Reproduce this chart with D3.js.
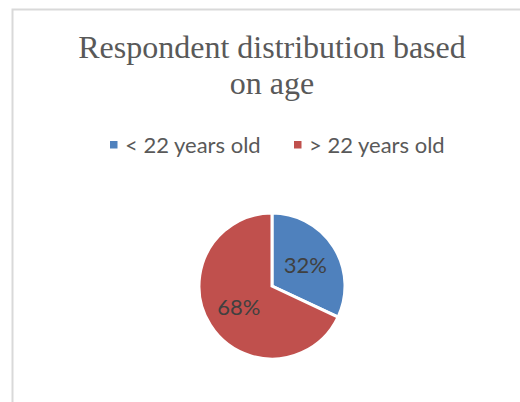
<!DOCTYPE html>
<html>
<head>
<meta charset="utf-8">
<script src="https://cdn.jsdelivr.net/npm/d3@7"></script>
<style>
    html, body { margin: 0; padding: 0; background: #fff; }
    svg { display: block; }
</style>
</head>
<body>
<div id="chart"></div>
<script>
// data
const categories = ["< 22 years old", "> 22 years old"];
const shares = [32, 68];
const sliceColors = ["#4f81bd", "#c0504d"];
const titleLines = ["Respondent distribution based", "on age"];

const WIDTH = 520;
const HEIGHT = 402;
const CENTER_X = 272;

const svg = d3.select("#chart")
    .append("svg")
    .attr("width", WIDTH)
    .attr("height", HEIGHT);

// chart area frame (runs off the right and bottom edges)
svg.append("rect")
    .attr("x", 12.5)
    .attr("y", 9.5)
    .attr("width", 540)
    .attr("height", 420)
    .attr("fill", "#fff")
    .attr("stroke", "#d9d9d9")
    .attr("stroke-width", 2);

// title
svg.append("text")
    .attr("text-anchor", "middle")
    .attr("font-family", "'Liberation Serif', 'Times New Roman', serif")
    .attr("font-size", 32)
    .attr("fill", "#595959")
    .selectAll("tspan")
    .data(titleLines)
    .join("tspan")
    .attr("x", CENTER_X)
    .attr("y", (d, i) => 58 + i * 35.5)
    .text(d => d);

// legend
const legendX = d3.scalePoint()
    .domain(categories)
    .range([110, 294]);

const legend = svg.append("g")
    .selectAll("g")
    .data(categories)
    .join("g")
    .attr("transform", d => `translate(${legendX(d)}, 0)`);

legend.append("rect")
    .attr("x", 0)
    .attr("y", 141)
    .attr("width", 7.5)
    .attr("height", 7.5)
    .attr("fill", (d, i) => sliceColors[i]);

legend.append("text")
    .attr("x", 15)
    .attr("y", 153)
    .attr("font-family", "Lato, 'Open Sans', sans-serif")
    .attr("font-size", 22)
    .attr("fill", "#595959")
    .text(d => d);

// pie
const radius = 73;
const pie = d3.pie().sort(null);
const arc = d3.arc().innerRadius(0).outerRadius(radius);
const labelArc = d3.arc().innerRadius(radius * 0.54).outerRadius(radius * 0.54);

const pieG = svg.append("g")
    .attr("transform", `translate(${CENTER_X}, 286)`);

const slices = pieG.selectAll("g")
    .data(pie(shares))
    .join("g");

slices.append("path")
    .attr("d", arc)
    .attr("fill", (d, i) => sliceColors[i])
    .attr("stroke", "#fff")
    .attr("stroke-width", 3);

slices.append("text")
    .attr("transform", d => `translate(${labelArc.centroid(d)})`)
    .attr("dy", "0.35em")
    .attr("text-anchor", "middle")
    .attr("font-family", "Lato, 'Open Sans', sans-serif")
    .attr("font-size", 22)
    .attr("fill", "#404040")
    .text(d => `${d.data}%`);
</script>
</body>
</html>
